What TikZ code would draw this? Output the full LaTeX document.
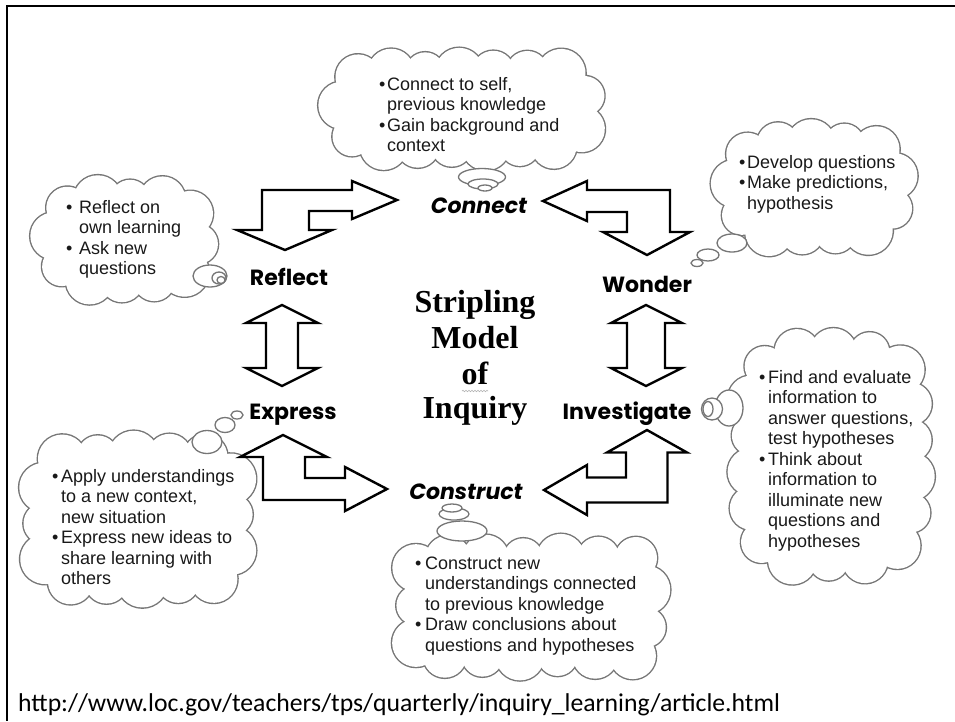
\documentclass[tikz,border=0pt]{standalone}
\usepackage{fontspec}
\setmainfont{Liberation Sans}
\newfontfamily\titlefont{Liberation Serif}
\newfontfamily\lblfont{Poppins}
\newfontfamily\urlfont{Carlito}
\usetikzlibrary{decorations.pathmorphing,decorations.markings}
\definecolor{cloudgray}{RGB}{118,118,118}
\definecolor{txt}{RGB}{25,25,25}
\tikzset{
  bubble/.style={draw=cloudgray, line width=1.3pt, fill=white},
  blockarrow/.style={draw=black, line width=2.4pt, fill=white, line join=miter},
  lbl/.style={font=\lblfont\bfseries\fontsize{22}{24}\selectfont, inner sep=0pt, anchor=base},
  ctext/.style={font=\fontsize{18}{20.5}\selectfont, text=txt, inner sep=0pt, anchor=base west},
  ttl/.style={font=\titlefont\bfseries\fontsize{32}{35}\selectfont, inner sep=0pt, anchor=base},
}
% puffy cloud: cx, cy, W, H, puff radius, number of puffs, corner fraction
\newcommand\puffcloud[7]{%
  \pgfmathsetmacro\pa{#3/2-#5}%
  \pgfmathsetmacro\pb{#4/2-#5}%
  \pgfmathsetmacro\rc{#7*min(\pa,\pb)}%
  \pgfmathsetmacro\pstep{(4*(\pa+\pb)-8*\rc+2*pi*\rc)/#6}%
  \foreach \mode in {1,2}{%
    \path[decorate, decoration={markings,
      mark=between positions 0 and 0.97 step \pstep pt with {%
        \pgfmathsetmacro\pr{#5*(1+0.11*sin(137*\pgfkeysvalueof{/pgf/decoration/mark info/sequence number}))}%
        \ifnum\mode=1
          \draw[cloudgray, line width=2.8pt] (0,0) circle [radius=\pr pt];
        \else
          \fill[white] (0,0) circle [radius=\pr pt];
        \fi}}]
      ({#1-\pa},{#2-\pb}) [rounded corners=\rc pt] rectangle ({#1+\pa},{#2+\pb});
  }%
  \fill[white] ({#1-\pa},{#2-\pb}) [rounded corners=\rc pt] rectangle ({#1+\pa},{#2+\pb});}
\begin{document}
\begin{tikzpicture}[x=1pt,y=-1pt]
\useasboundingbox (0,0) rectangle (955,721);
\fill[white] (0,0) rectangle (955,721);
\draw[line width=2pt] (955,6) -- (7,6) -- (7,721);

% clouds
\puffcloud{464}{109}{288}{118}{22}{17}{0.9}
\puffcloud{815}{188}{205}{133}{22}{13}{0.9}
\puffcloud{126}{240}{188}{125}{22}{12}{0.9}
\puffcloud{138}{519}{234}{172}{23}{16}{0.5}
\puffcloud{531}{607}{274}{142}{22}{17}{0.2}
\puffcloud{831}{456}{203}{253}{22}{18}{0.6}

% thought bubbles
\draw[bubble] (482,177) ellipse [x radius=23.5pt, y radius=8.5pt];
\draw[bubble] (483,184) ellipse [x radius=15pt, y radius=5pt];
\draw[bubble] (485,188) ellipse [x radius=7pt, y radius=3pt];

\draw[bubble] (210,276) ellipse [x radius=17pt, y radius=11pt];
\draw[bubble] (219,278) ellipse [x radius=7pt, y radius=6pt];
\draw[bubble] (221,280) ellipse [x radius=4pt, y radius=3.5pt];

\draw[bubble] (732,243) ellipse [x radius=15pt, y radius=9pt];
\draw[bubble] (708,255) ellipse [x radius=11pt, y radius=6pt];
\draw[bubble] (697,263) ellipse [x radius=6pt, y radius=3.5pt];

\draw[bubble] (207,442) ellipse [x radius=15pt, y radius=11.5pt];
\draw[bubble] (225,425) ellipse [x radius=10pt, y radius=7.5pt];
\draw[bubble] (237,415) ellipse [x radius=6pt, y radius=4pt];

\draw[bubble] (462,531) ellipse [x radius=25pt, y radius=10pt];
\draw[bubble] (454,514) ellipse [x radius=15pt, y radius=6pt];
\draw[bubble] (452,508) ellipse [x radius=10pt, y radius=4pt];

\draw[bubble] (729,408) ellipse [x radius=14pt, y radius=18pt];
\draw[bubble] (712,409) ellipse [x radius=10.5pt, y radius=11pt];
\draw[bubble] (708,409) ellipse [x radius=5pt, y radius=7.5pt];

% cloud texts
\node[ctext] (tC) at (379,90) {\begin{tabular}[t]{@{}l@{\hspace{1.7pt}}l@{}}
\textbullet&Connect to self,\\ &previous knowledge\\ \textbullet&Gain background and\\ &context\end{tabular}};
\node[ctext] (tW) at (739,168) {\begin{tabular}[t]{@{}l@{\hspace{1.7pt}}l@{}}
\textbullet&Develop questions\\ \textbullet&Make predictions,\\ &hypothesis\end{tabular}};
\node[ctext] (tR) at (66,213) {\begin{tabular}[t]{@{}l@{\hspace{6.7pt}}l@{}}
\textbullet&Reflect on\\ &own learning\\ \textbullet&Ask new\\ &questions\end{tabular}};
\node[ctext] (tE) at (52,482) {\begin{tabular}[t]{@{}l@{\hspace{2.7pt}}l@{}}
\textbullet&Apply understandings\\ &to a new context,\\ &new situation\\ \textbullet&Express new ideas to\\ &share learning with\\ &others\end{tabular}};
\node[ctext] (tK) at (415,569) {\begin{tabular}[t]{@{}l@{\hspace{3.7pt}}l@{}}
\textbullet&Construct new\\ &understandings connected\\ &to previous knowledge\\ \textbullet&Draw conclusions about\\ &questions and hypotheses\end{tabular}};
\node[ctext] (tI) at (759,383) {\begin{tabular}[t]{@{}l@{\hspace{2.7pt}}l@{}}
\textbullet&Find and evaluate\\ &information to\\ &answer questions,\\ &test hypotheses\\ \textbullet&Think about\\ &information to\\ &illuminate new\\ &questions and\\ &hypotheses\end{tabular}};

% block arrows
\draw[blockarrow] (285,250) -- (332,230) -- (309,230) -- (309,211) -- (352,211) -- (352,219)
  -- (397,200) -- (352,181) -- (352,190) -- (262,190) -- (262,230) -- (237,230) -- cycle;
\draw[blockarrow] (647,255) -- (690,232) -- (670,232) -- (670,190) -- (587,190) -- (587,181)
  -- (543,201) -- (587,221) -- (587,212) -- (627,212) -- (627,232) -- (603,232) -- cycle;
\draw[blockarrow] (283,435) -- (327,457) -- (305,457) -- (305,478) -- (345,478) -- (345,467)
  -- (387,489) -- (345,511) -- (345,500) -- (263,500) -- (263,457) -- (240,457) -- cycle;
\draw[blockarrow] (647,430) -- (687,452.5) -- (667.5,452.5) -- (667.5,502.5) -- (587,502.5)
  -- (587,515) -- (544,490) -- (587,465) -- (587,477.5) -- (626,477.5) -- (626,452.5) -- (607,452.5) -- cycle;
\draw[blockarrow] (282,305) -- (318,323) -- (298,323) -- (298,368) -- (318,368) -- (282,386)
  -- (246,368) -- (266,368) -- (266,323) -- (246,323) -- cycle;
\draw[blockarrow] (646,305) -- (682,323) -- (665,323) -- (665,368) -- (682,368) -- (646,386)
  -- (611,368) -- (627,368) -- (627,323) -- (611,323) -- cycle;

% stage labels
\node[lbl, font=\lblfont\bfseries\itshape\fontsize{22}{24}\selectfont] (connect) at (479,213) {Connect};
\node[lbl] (reflect) at (289,285) {Reflect};
\node[lbl] (wonder) at (647,292) {Wonder};
\node[lbl] (express) at (293,419) {Express};
\node[lbl] (investigate) at (627,419) {Investigate};
\node[lbl, font=\lblfont\bfseries\itshape\fontsize{22}{24}\selectfont] (construct) at (466,499) {Construct};

% title
\node[ttl] (t1) at (475,312) {Stripling};
\node[ttl] (t2) at (475,348) {Model};
\node[ttl] (t3) at (475,384) {of};
\node[ttl] (t4) at (475,418) {Inquiry};
\draw[gray!60, line width=0.6pt, decorate, decoration={snake, amplitude=0.7pt, segment length=3pt}] (462,391) -- (488,391);

% source
\node[anchor=base west, inner sep=0pt, font=\urlfont\fontsize{25.7}{28}\selectfont] (url) at (18,711)
  {http://www.loc.gov/teachers/tps/quarterly/inquiry\_learning/article.html};
\end{tikzpicture}
\end{document}
